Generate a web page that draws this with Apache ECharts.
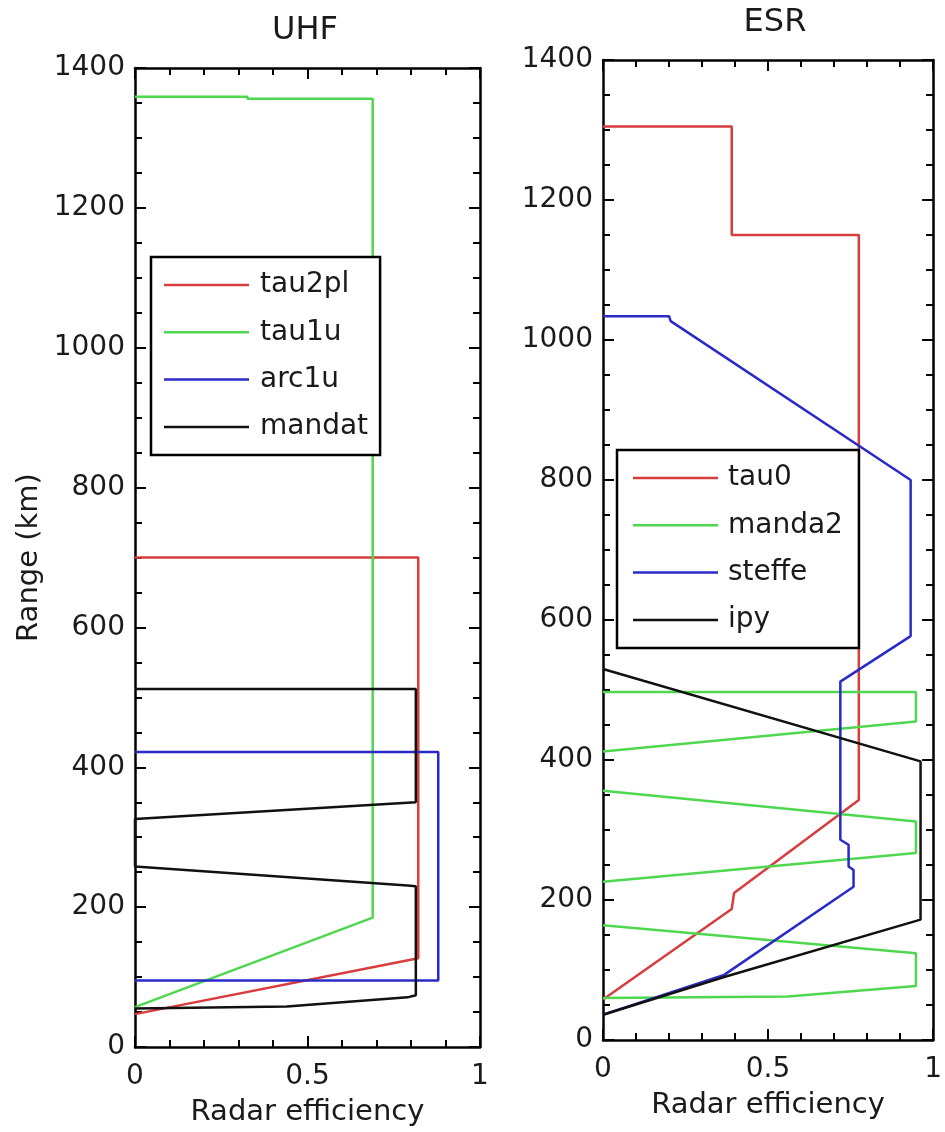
<!DOCTYPE html>
<html><head><meta charset="utf-8">
<script src="https://cdn.jsdelivr.net/npm/echarts@6/dist/echarts.min.js"></script>
<style>html,body{margin:0;padding:0;background:#fff}#c{width:945px;height:1132px}</style>
</head><body><div id="c"></div>
<script>
// ---- UHF panel data: [radar efficiency, range km] ----
const uhfTau2pl = [[0,700],[0.821,700],[0.821,127],[0,47]];
const uhfTau1u  = [[0,1359],[0.326,1359],[0.326,1356],[0.689,1356],[0.689,185],[0,57]];
const uhfArc1u  = [[0,422],[0.879,422],[0.879,95],[0,95]];
const uhfMandat = [[0,512],[0.814,512],[0.814,350],[0,326],[0,258],[0.79,231],[0.814,230],[0.814,74],[0.79,71],[0.44,58],[0,55]];
// ---- ESR panel data (null = pen lifted along the axis) ----
const esrTau0   = [[0,1305],[0.39,1305],[0.39,1150],[0.775,1150],[0.775,343],[0.397,210],[0.39,187],[0,58]];
const esrManda2 = [[0,497],[0.948,497],[0.948,455],[0,412],[0,null],[0,356],[0.948,312],[0.948,267],[0,226],[0,null],[0,164],[0.948,124],[0.948,77],[0.56,62],[0,60]];
const esrSteffe = [[0,1034],[0.2,1034],[0.205,1027],[0.932,800],[0.932,577],[0.719,512],[0.719,286],[0.744,279],[0.744,248],[0.759,243],[0.759,219],[0.367,93],[0,36]];
const esrIpy    = [[0,530],[0.962,398],[0.962,172],[0.367,90],[0,36]];
// ---- axes / labels ----
const panelTitles = ['UHF','ESR'];
const xName = 'Radar efficiency';
const yName = 'Range (km)';
const xRange = [0, 1], xStep = 0.5;
const yRange = [0, 1400], yStep = 200;
const uhfNames = ['tau2pl','tau1u','arc1u','mandat'];
const esrNames = ['tau0','manda2','steffe','ipy'];
const colors = ['#d83c3c','#4fd84f','#2a2ac8','#111111'];

const FF = 'DejaVu Sans';
const TXT = '#1a1a1a';

function xAx(grid, pos, label) {
  return {type:'value', gridIndex:grid, position:pos, min:xRange[0], max:xRange[1], interval:xStep, z:3,
    axisLine:{show:true, onZero:false, lineStyle:{color:'#000', width:2.5}},
    axisTick:{show:true, inside:true, length:11, lineStyle:{color:'#000', width:2}},
    minorTick:{show:true, splitNumber:5, length:7, lineStyle:{color:'#000', width:2}},
    splitLine:{show:false}, minorSplitLine:{show:false},
    axisLabel:{show:label, margin:16, color:TXT, fontSize:28, fontFamily:FF, formatter:v => String(v)},
    name: label ? xName : '', nameLocation:'middle', nameGap:51,
    nameTextStyle:{fontSize:29, fontFamily:FF, color:TXT}};
}
function yAx(grid, pos, label, nm) {
  return {type:'value', gridIndex:grid, position:pos, min:yRange[0], max:yRange[1], interval:yStep, z:3,
    axisLine:{show:true, onZero:false, lineStyle:{color:'#000', width:2.5}},
    axisTick:{show:true, inside:true, length:11, lineStyle:{color:'#000', width:2}},
    minorTick:{show:true, splitNumber:4, length:7, lineStyle:{color:'#000', width:2}},
    splitLine:{show:false}, minorSplitLine:{show:false},
    axisLabel:{show:label, margin:10, color:TXT, fontSize:28, fontFamily:FF, formatter:v => String(v)},
    name: nm || '', nameLocation:'middle', nameGap:91, nameRotate:90,
    nameTextStyle:{fontSize:29, fontFamily:FF, color:TXT}};
}
function ser(name, data, ci, axis) {
  return {type:'line', name:name, data:data, xAxisIndex:axis, yAxisIndex:axis,
    symbol:'none', clip:true, connectNulls:false, animation:false,
    lineStyle:{color:colors[ci], width:2.5}, itemStyle:{color:colors[ci]}};
}
function leg(names, left, top, pad, tpad) {
  return {data:names, orient:'vertical', left:left, top:top, padding:pad, z:5,
    icon:'rect', itemWidth:85, itemHeight:2.5, itemGap:17.3, backgroundColor:'#fff',
    borderColor:'#000', borderWidth:2.5, selectedMode:false,
    textStyle:{fontSize:28, lineHeight:30, fontFamily:FF, color:TXT, padding:[0,0,0,tpad]}};
}

const chart = echarts.init(document.getElementById('c'), null, {renderer:'canvas'});
chart.setOption({
  backgroundColor:'#fff',
  animation:false,
  title:[
    {text:panelTitles[0], left:305, top:31, textAlign:'center', textVerticalAlign:'middle', padding:0,
     textStyle:{fontSize:32, fontWeight:'normal', fontFamily:FF, color:TXT}},
    {text:panelTitles[1], left:775, top:23, textAlign:'center', textVerticalAlign:'middle', padding:0,
     textStyle:{fontSize:32, fontWeight:'normal', fontFamily:FF, color:TXT}}
  ],
  grid:[
    {left:135, top:68, width:345, height:980},
    {left:603, top:60, width:341, height:980}
  ],
  xAxis:[xAx(0,'bottom',true), xAx(1,'bottom',true), xAx(0,'top',false), xAx(1,'top',false)],
  yAxis:[yAx(0,'left',true,yName), yAx(1,'left',true,''), yAx(0,'right',false), yAx(1,'right',false)],
  legend:[
    leg(uhfNames, 151, 257, [13,12,13,13], 6),
    leg(esrNames, 617, 450, [13,16,13,16], 5)
  ],
  series:[
    ser(uhfNames[0], uhfTau2pl, 0, 0),
    ser(uhfNames[1], uhfTau1u, 1, 0),
    ser(uhfNames[2], uhfArc1u, 2, 0),
    ser(uhfNames[3], uhfMandat, 3, 0),
    ser(esrNames[0], esrTau0, 0, 1),
    ser(esrNames[1], esrManda2, 1, 1),
    ser(esrNames[2], esrSteffe, 2, 1),
    ser(esrNames[3], esrIpy, 3, 1)
  ]
});
</script></body></html>
